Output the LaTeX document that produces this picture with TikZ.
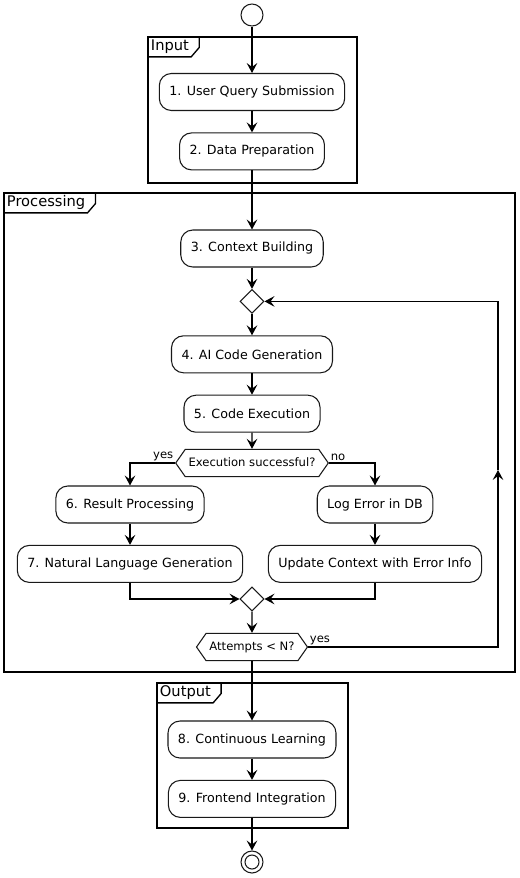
\documentclass[tikz,border=0pt]{standalone}
\usepackage{fontspec}
\setmainfont{DejaVu Sans}
\usetikzlibrary{positioning,fit,shapes.geometric,shapes.symbols,arrows.meta}

\begin{document}
\begin{tikzpicture}[x=0.75pt, y=-0.75pt, node distance=16pt,
    >={Stealth[length=7.5pt, width=8pt, inset=3pt]}]

    %
    % Styles for activities, frames and flows
    %
    \tikzstyle{activity} = [draw=black!90, line width=0.8pt, rectangle, rounded corners=9pt,
                          minimum height=27.75pt, inner xsep=7.5pt, align=center,
                          font={\fontsize{9.5}{11}\selectfont}]
    \tikzstyle{merge} = [draw=black!90, line width=0.8pt, diamond, minimum width=18pt,
                          minimum height=18pt, inner sep=0pt]
    \tikzstyle{decision} = [draw=black!90, line width=0.8pt, signal, signal to=west and east,
                          signal pointer angle=110, text height=7pt, text depth=2.5pt,
                          inner xsep=2.5pt, inner ysep=5.5pt, font={\fontsize{8.7}{10}\selectfont}]
    \tikzstyle{terminal} = [circle, draw=black!90, line width=0.8pt, inner sep=0pt]
    \tikzstyle{frame} = [draw, line width=1pt, rectangle, inner sep=0pt]
    \tikzstyle{frameName} = [anchor=north west, inner xsep=2.5pt, inner ysep=0pt,
                          minimum height=15pt, font={\fontsize{11}{13}\selectfont}]
    \tikzstyle{tab} = [line width=1pt]
    \tikzstyle{flow} = [black, line width=0.8pt, ->]
    \tikzstyle{flowLabel} = [inner sep=1pt, font={\fontsize{8.7}{10}\selectfont}]

    \useasboundingbox (0,0) rectangle (520,878);

    %
    % Partitions
    %
    \node[frame, name=inputFrame, fit={(148,37) (357,183)}] {};
    \node[frameName, name=inputName] at (inputFrame.north west) {Input};
    \draw[tab] (inputName.south west) -- ([xshift=-1pt]inputName.south east)
      -- ([xshift=5pt, yshift=7pt]inputName.south east) -- ([xshift=5pt]inputName.north east);

    \node[frame, name=procFrame, fit={(4,193) (515,672)}] {};
    \node[frameName, name=procName] at (procFrame.north west) {Processing};
    \draw[tab] (procName.south west) -- ([xshift=-1pt]procName.south east)
      -- ([xshift=5pt, yshift=7pt]procName.south east) -- ([xshift=5pt]procName.north east);

    \node[frame, name=outputFrame, fit={(157,683) (348,828)}] {};
    \node[frameName, name=outputName] at (outputFrame.north west) {Output};
    \draw[tab] (outputName.south west) -- ([xshift=-1pt]outputName.south east)
      -- ([xshift=5pt, yshift=7pt]outputName.south east) -- ([xshift=5pt]outputName.north east);

    %
    % Position activities
    %
    \node[terminal, name=start, minimum size=16.5pt] at (252,15) {};
    \node[activity, name=query] at (252,92) {1. User Query Submission};
    \node[activity, name=prep, below=of query] {2. Data Preparation};
    \node[activity, name=context] at (252,248.5) {3. Context Building};
    \node[merge, name=retry, below=of context] {};
    \node[activity, name=codegen, below=of retry] {4. AI Code Generation};
    \node[activity, name=execute, below=of codegen] {5. Code Execution};
    \node[decision, name=success] at (252,463) {Execution successful?};
    \node[activity, name=result] at (130,504.5) {6. Result Processing};
    \node[activity, name=nlg, below=of result] {7. Natural Language Generation};
    \node[activity, name=logError] at (375,504.5) {Log Error in DB};
    \node[activity, name=update, below=of logError] {Update Context with Error Info};
    \node[merge, name=join] at (252,599) {};
    \node[decision, name=attempts] at (252,647) {Attempts < N?};
    \node[activity, name=learning] at (252,739.5) {8. Continuous Learning};
    \node[activity, name=frontend, below=of learning] {9. Frontend Integration};
    \node[terminal, name=stop, minimum size=16.5pt] at (252,862) {};
    \node[terminal, name=stopRing, minimum size=10.5pt] at (stop) {};

    \coordinate (loopMid) at (498,470);

    %
    % Connect activities via flows
    %
    \draw[flow] (start) -- (query);
    \draw[flow] (query) -- (prep);
    \draw[flow] (prep) -- (context);
    \draw[flow] (context) -- (retry);
    \draw[flow] (retry) -- (codegen);
    \draw[flow] (codegen) -- (execute);
    \draw[flow] (execute) -- (success);
    \draw[flow] (success.west) node[flowLabel, anchor=south east]{yes} -| (result.north);
    \draw[flow] (success.east) node[flowLabel, anchor=south west]{no} -| (logError.north);
    \draw[flow] (result) -- (nlg);
    \draw[flow] (logError) -- (update);
    \draw[flow] (nlg.south) |- (join.west);
    \draw[flow] (update.south) |- (join.east);
    \draw[flow] (join) -- (attempts);
    \draw[flow] (attempts.east) node[flowLabel, anchor=south west]{yes} -| (loopMid);
    \draw[flow] (loopMid) |- (retry.east);
    \draw[flow] (attempts.south) -- (learning.north);
    \draw[flow] (learning) -- (frontend);
    \draw[flow] (frontend) -- (stop);
  \end{tikzpicture}
\end{document}
